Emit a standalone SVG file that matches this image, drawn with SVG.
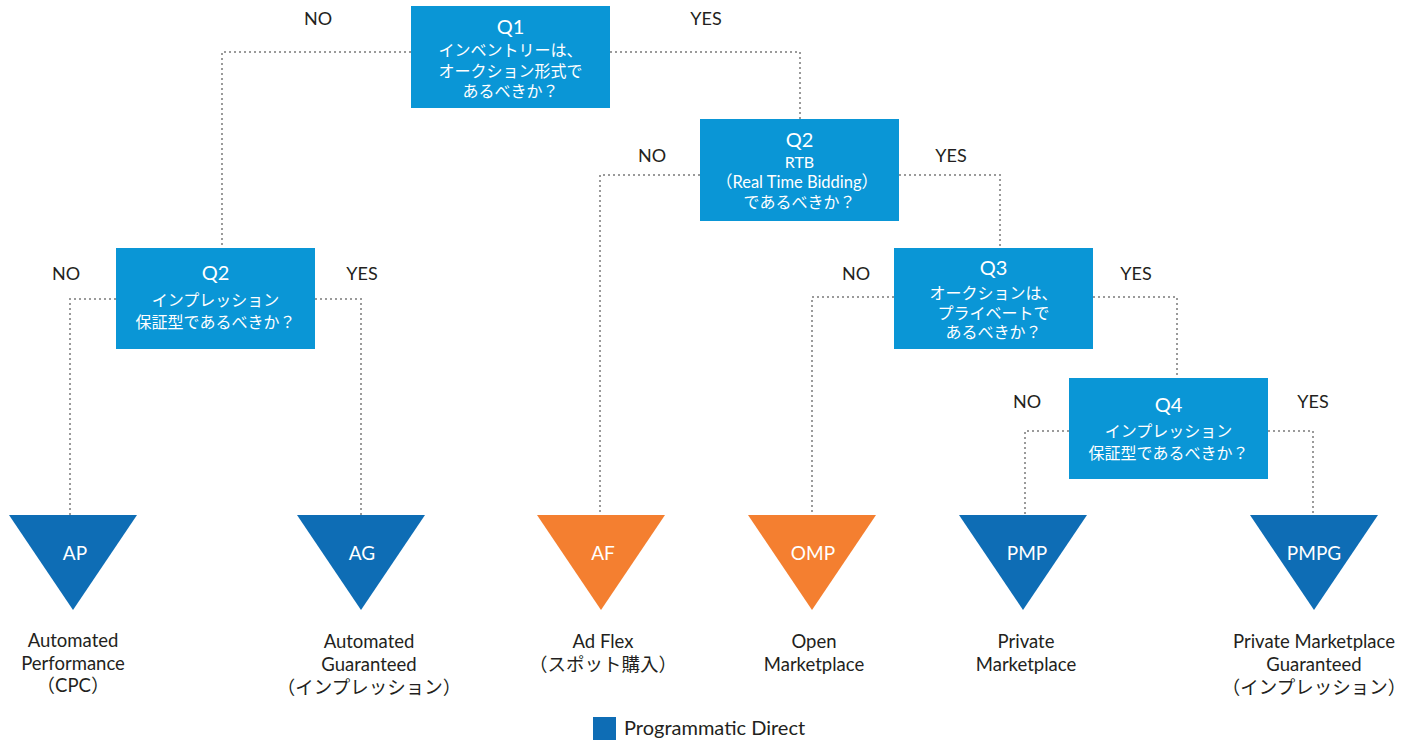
<svg xmlns="http://www.w3.org/2000/svg" width="1416" height="740" viewBox="0 0 1416 740">
<style>
text{font-family:Lato,"Noto Sans CJK JP",sans-serif;text-anchor:middle}
.q{fill:#0A96D6}
.qt{fill:#fff;font-size:20px}
.qj{fill:#fff;font-size:16px}
.lbl{fill:#231F20;font-size:18px}
.tri-b{fill:#0E6DB5}
.tri-o{fill:#F47F30}
.tt{fill:#fff;font-size:19px}
.cap{fill:#231F20;font-size:18.5px}
.con{fill:none;stroke:#9a9a9a;stroke-width:2;stroke-dasharray:2 3}
</style>
<rect width="1416" height="740" fill="#fff"/>
<g id="connectors">
<polyline class="con" points="411,52 222,52 222,248"/>
<polyline class="con" points="610,52 800,52 800,119"/>
<polyline class="con" points="700,175 600,175 600,515"/>
<polyline class="con" points="899,175 1000,175 1000,248"/>
<polyline class="con" points="116,299 70,299 70,515"/>
<polyline class="con" points="315,299 361,299 361,515"/>
<polyline class="con" points="894,297 812,297 812,515"/>
<polyline class="con" points="1093,297 1177,297 1177,378"/>
<polyline class="con" points="1069,431 1025,431 1025,515"/>
<polyline class="con" points="1268,431 1313,431 1313,515"/>
</g>
<g id="edge-labels">
<text class="lbl" x="318" y="25">NO</text>
<text class="lbl" x="706" y="25">YES</text>
<text class="lbl" x="652" y="162">NO</text>
<text class="lbl" x="951" y="162">YES</text>
<text class="lbl" x="66" y="280">NO</text>
<text class="lbl" x="362" y="280">YES</text>
<text class="lbl" x="856" y="280">NO</text>
<text class="lbl" x="1136" y="280">YES</text>
<text class="lbl" x="1027" y="408">NO</text>
<text class="lbl" x="1313" y="408">YES</text>
</g>
<g id="q1">
<rect class="q" x="411" y="6" width="199" height="102"/>
<text class="qt" x="510.5" y="34">Q1</text>
<text class="qj" x="510.5" y="56">インベントリーは、</text>
<text class="qj" x="510.5" y="77">オークション形式で</text>
<text class="qj" x="510.5" y="97">あるべきか？</text>
</g>
<g id="q2-rtb">
<rect class="q" x="700" y="119" width="199" height="102"/>
<text class="qt" x="799.5" y="147">Q2</text>
<text class="qj" x="799.5" y="168">RTB</text>
<text class="qj" x="797" y="188" style="font-size:16.5px">（Real Time Bidding）</text>
<text class="qj" x="799.5" y="208">であるべきか？</text>
</g>
<g id="q2-imp">
<rect class="q" x="116" y="248" width="199" height="101"/>
<text class="qt" x="215.5" y="280">Q2</text>
<text class="qj" x="215.5" y="306">インプレッション</text>
<text class="qj" x="215.5" y="328">保証型であるべきか？</text>
</g>
<g id="q3">
<rect class="q" x="894" y="248" width="199" height="101"/>
<text class="qt" x="993.5" y="275">Q3</text>
<text class="qj" x="993.5" y="299">オークションは、</text>
<text class="qj" x="993.5" y="319">プライベートで</text>
<text class="qj" x="993.5" y="338">あるべきか？</text>
</g>
<g id="q4">
<rect class="q" x="1069" y="378" width="199" height="101"/>
<text class="qt" x="1168.5" y="412">Q4</text>
<text class="qj" x="1168.5" y="437">インプレッション</text>
<text class="qj" x="1168.5" y="459">保証型であるべきか？</text>
</g>
<g id="ap">
<polygon class="tri-b" points="9,515 137,515 73,610"/>
<text class="tt" x="75" y="560">AP</text>
<text class="cap" x="73" y="647">Automated</text>
<text class="cap" x="73" y="670">Performance</text>
<text class="cap" x="73" y="692">（CPC）</text>
</g>
<g id="ag">
<polygon class="tri-b" points="297,515 425,515 361,610"/>
<text class="tt" x="362" y="560">AG</text>
<text class="cap" x="369" y="648">Automated</text>
<text class="cap" x="369" y="671">Guaranteed</text>
<text class="cap" x="369" y="694">（インプレッション）</text>
</g>
<g id="af">
<polygon class="tri-o" points="537,515 665,515 601,610"/>
<text class="tt" x="603" y="560">AF</text>
<text class="cap" x="603" y="648">Ad Flex</text>
<text class="cap" x="603" y="671">（スポット購入）</text>
</g>
<g id="omp">
<polygon class="tri-o" points="748,515 876,515 812,610"/>
<text class="tt" x="813" y="560">OMP</text>
<text class="cap" x="814" y="648">Open</text>
<text class="cap" x="814" y="671">Marketplace</text>
</g>
<g id="pmp">
<polygon class="tri-b" points="959,515 1087,515 1023,610"/>
<text class="tt" x="1027" y="560">PMP</text>
<text class="cap" x="1026" y="648">Private</text>
<text class="cap" x="1026" y="671">Marketplace</text>
</g>
<g id="pmpg">
<polygon class="tri-b" points="1250,515 1378,515 1314,610"/>
<text class="tt" x="1314" y="560">PMPG</text>
<text class="cap" x="1314" y="648">Private Marketplace</text>
<text class="cap" x="1314" y="671">Guaranteed</text>
<text class="cap" x="1314" y="694">（インプレッション）</text>
</g>
<g id="legend">
<rect class="tri-b" x="593" y="717" width="23" height="23"/>
<text style="fill:#231F20;font-size:20px;text-anchor:start" x="624" y="735">Programmatic Direct</text>
</g>
</svg>
